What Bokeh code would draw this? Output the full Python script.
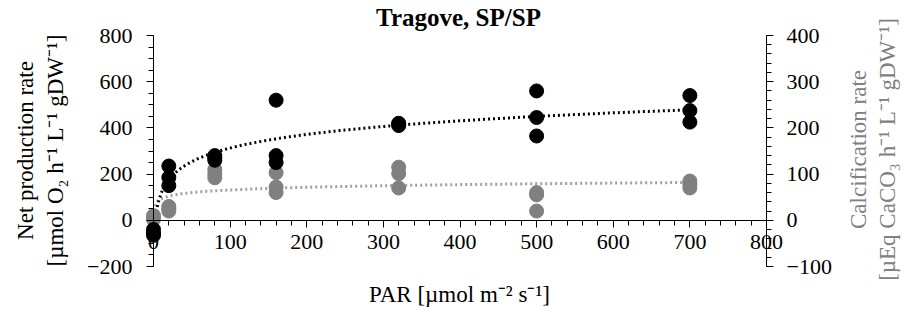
import math
import numpy as np
from bokeh.plotting import figure
from bokeh.models import Range1d, LinearAxis, FixedTicker, Label
from bokeh.embed import file_html
from bokeh.resources import INLINE

# ---- data ----
par_x = [0, 0, 0, 20, 20, 20, 80, 80, 80, 160, 160, 160,
         320, 320, 320, 500, 500, 500, 700, 700, 700]
net_production = [-40, -55, -65, 235, 185, 150, 280, 270, 260, 520, 280, 250,
                  420, 415, 410, 560, 445, 365, 540, 475, 425]
calcification = [10, 5, 2, 30, 25, 20, 110, 100, 92, 103, 72, 60,
                 115, 101, 70, 60, 55, 20, 85, 78, 70]

x_ticks = [0, 100, 200, 300, 400, 500, 600, 700, 800]
left_ticks = [-200, 0, 200, 400, 600, 800]
right_ticks = [-100, 0, 100, 200, 300, 400]

title_text = "Tragove, SP/SP"
x_label = "PAR [µmol m⁻² s⁻¹]"
left_label_lines = ["Net production rate", "[µmol O₂ h⁻¹ L⁻¹ gDW⁻¹]"]
right_label_lines = ["Calcification rate", "[µEq CaCO₃ h⁻¹ L⁻¹ gDW⁻¹]"]

FONT = "Liberation Serif"
BLACK = "#000000"
GREY = "#808080"
GREY_LINE = "#a0a0a0"

# ---- layout (canvas pixels) ----
W, H = 909, 312
AX_L, AX_R, AX_T, AX_B = 153, 766, 35, 266   # where x=0, x=800, y=800, y=-200 sit
ppx = (AX_R - AX_L) / 800.0
ppy = (AX_B - AX_T) / 1000.0
x_start = 0 - AX_L / ppx
x_end = 800 + (W - AX_R) / ppx
y_end = 800 + AX_T / ppy
y_start = -200 - (H - AX_B) / ppy

def cx(px):
    return x_start + px / ppx

def cy(py):
    return y_end - py / ppy

# logarithmic trendlines fitted from the data (x > 0)
px_arr = np.array(par_x, dtype=float)
mask = px_arr > 0
a_n, b_n = np.polyfit(np.log(px_arr[mask]), np.array(net_production)[mask], 1)
a_c, b_c = np.polyfit(np.log(px_arr[mask]), np.array(calcification)[mask], 1)
xs_n = np.linspace(3, 700, 300)
xs_c = np.linspace(1.5, 700, 300)

p = figure(width=W, height=H, title=None,
           x_range=Range1d(x_start, x_end), y_range=Range1d(y_start, y_end),
           output_backend="svg", toolbar_location=None,
           x_axis_location=None, y_axis_location=None,
           min_border=0, min_border_left=0, min_border_right=0,
           min_border_top=0, min_border_bottom=0)
p.extra_y_ranges = {"calc": Range1d(y_start / 2.0, y_end / 2.0)}
p.outline_line_color = None
p.xgrid.visible = False
p.ygrid.visible = False

def style_axis(ax):
    ax.axis_line_color = BLACK
    ax.major_tick_line_color = BLACK
    ax.minor_tick_line_color = BLACK
    ax.major_tick_in = 0
    ax.major_tick_out = 7
    ax.minor_tick_in = 0
    ax.minor_tick_out = 5
    ax.major_label_text_font = FONT
    ax.major_label_text_font_size = "22px"
    ax.major_label_text_color = BLACK

xaxis = LinearAxis(ticker=FixedTicker(ticks=x_ticks,
                                      minor_ticks=list(range(0, 801, 20))),
                   fixed_location=0, bounds=(0, 800))
style_axis(xaxis)
xaxis.major_label_standoff = 8
p.add_layout(xaxis, "below")

yaxis = LinearAxis(ticker=FixedTicker(ticks=left_ticks,
                                      minor_ticks=list(range(-200, 801, 50))),
                   fixed_location=0, bounds=(-200, 800))
style_axis(yaxis)
yaxis.major_label_standoff = 14
p.add_layout(yaxis, "left")

raxis = LinearAxis(y_range_name="calc",
                   ticker=FixedTicker(ticks=right_ticks,
                                      minor_ticks=list(range(-100, 401, 20))),
                   fixed_location=800, bounds=(-100, 400))
style_axis(raxis)
raxis.major_label_standoff = 13
p.add_layout(raxis, "right")

# trendlines
p.line(xs_c, a_c * np.log(xs_c) + b_c, y_range_name="calc",
       line_color=GREY_LINE, line_width=3, line_dash="2 3")
p.line(xs_n, a_n * np.log(xs_n) + b_n,
       line_color=BLACK, line_width=3, line_dash="2 3")

# points
p.scatter(par_x, calcification, y_range_name="calc", size=14,
          fill_color=GREY, line_color=GREY)
p.scatter(par_x, net_production, size=14,
          fill_color=BLACK, line_color=BLACK)

# titles / axis labels
p.add_layout(Label(x=cx(458), y=cy(17), text=title_text, text_align="center",
                   text_baseline="middle", text_font=FONT,
                   text_font_size="25px", text_font_style="bold",
                   text_color=BLACK))
p.add_layout(Label(x=cx(459), y=cy(294), text=x_label, text_align="center",
                   text_baseline="middle", text_font=FONT,
                   text_font_size="23px", text_color=BLACK))
for line, xpix in zip(left_label_lines, [25, 55]):
    p.add_layout(Label(x=cx(xpix), y=cy(150), text=line, angle=math.pi / 2,
                       text_align="center", text_baseline="middle",
                       text_font=FONT, text_font_size="23px", text_color=BLACK))
for line, xpix in zip(right_label_lines, [858, 887]):
    p.add_layout(Label(x=cx(xpix), y=cy(149), text=line, angle=math.pi / 2,
                       text_align="center", text_baseline="middle",
                       text_font=FONT, text_font_size="23px", text_color=GREY))

open("out.html", "w").write(file_html(p, INLINE))
